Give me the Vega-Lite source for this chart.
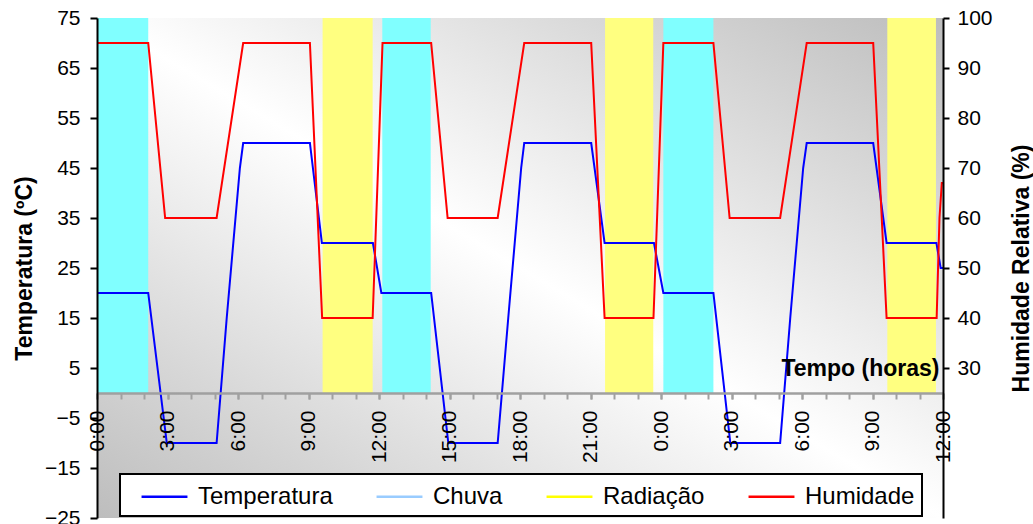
{
  "$schema": "https://vega.github.io/schema/vega-lite/v6.json",
  "width": 846,
  "height": 500,
  "autosize": {"type": "none"},
  "padding": {"left": 97, "top": 18, "right": 90, "bottom": 6},
  "background": "white",
  "view": {
    "stroke": null,
    "fill": {
      "gradient": "linear", "x1": 1, "y1": 0, "x2": 0, "y2": 1,
      "stops": [
        {"offset": 0, "color": "#bdbdbd"},
        {"offset": 0.5, "color": "#ffffff"},
        {"offset": 1, "color": "#bdbdbd"}
      ]
    }
  },
  "config": {
    "font": "Liberation Sans",
    "axis": {"labelColor": "black", "titleColor": "black", "grid": false},
    "axisX": {"labelOverlap": false, "labelFlush": false, "labelBound": false, "zindex": 1},
    "legend": {
      "orient": "none",
      "legendX": 23,
      "legendY": 456,
      "direction": "horizontal",
      "fillColor": "white",
      "strokeColor": "black",
      "strokeWidth": 2,
      "padding": 7,
      "symbolType": "M-1.64,0H1.64",
      "symbolSize": 784,
      "symbolOffset": 22,
      "symbolStrokeWidth": 2.5,
      "labelFontSize": 24,
      "labelOffset": 18,
      "columnPadding": 29,
      "labelColor": "black",
      "labelLimit": 300,
      "zindex": 5
    }
  },
  "datasets": {
    "bands": [
      {"start": 0, "end": 2.18, "tipo": "Chuva"},
      {"start": 9.6, "end": 11.73, "tipo": "Radiação"},
      {"start": 12.14, "end": 14.2, "tipo": "Chuva"},
      {"start": 21.62, "end": 23.67, "tipo": "Radiação"},
      {"start": 24.1, "end": 26.23, "tipo": "Chuva"},
      {"start": 33.63, "end": 35.7, "tipo": "Radiação"}
    ],
    "temp": [
      {"h": 0, "v": 20}, {"h": 2.18, "v": 20}, {"h": 2.97, "v": -10}, {"h": 5.09, "v": -10},
      {"h": 5.52, "v": 15}, {"h": 6.08, "v": 45}, {"h": 6.22, "v": 50}, {"h": 9.06, "v": 50},
      {"h": 9.57, "v": 30}, {"h": 11.74, "v": 30}, {"h": 12.1, "v": 20},
      {"h": 14.22, "v": 20}, {"h": 14.95, "v": -10}, {"h": 17.05, "v": -10},
      {"h": 17.5, "v": 15}, {"h": 18.05, "v": 45}, {"h": 18.18, "v": 50}, {"h": 21.03, "v": 50},
      {"h": 21.6, "v": 30}, {"h": 23.7, "v": 30}, {"h": 24.1, "v": 20},
      {"h": 26.23, "v": 20}, {"h": 26.95, "v": -10}, {"h": 29.07, "v": -10},
      {"h": 29.5, "v": 15}, {"h": 30.05, "v": 45}, {"h": 30.2, "v": 50}, {"h": 33.03, "v": 50},
      {"h": 33.6, "v": 30}, {"h": 35.72, "v": 30}, {"h": 35.9, "v": 25}, {"h": 36, "v": 25}
    ],
    "hum": [
      {"h": 0, "v": 95}, {"h": 2.18, "v": 95}, {"h": 2.9, "v": 60}, {"h": 5.09, "v": 60},
      {"h": 6.22, "v": 95}, {"h": 9.06, "v": 95}, {"h": 9.58, "v": 40}, {"h": 11.73, "v": 40},
      {"h": 12.15, "v": 95},
      {"h": 14.22, "v": 95}, {"h": 14.92, "v": 60}, {"h": 17.05, "v": 60},
      {"h": 18.18, "v": 95}, {"h": 21.03, "v": 95}, {"h": 21.6, "v": 40}, {"h": 23.68, "v": 40},
      {"h": 24.1, "v": 95},
      {"h": 26.23, "v": 95}, {"h": 26.92, "v": 60}, {"h": 29.07, "v": 60},
      {"h": 30.2, "v": 95}, {"h": 33.03, "v": 95}, {"h": 33.6, "v": 40}, {"h": 35.73, "v": 40},
      {"h": 35.85, "v": 60}, {"h": 35.95, "v": 67}, {"h": 36, "v": 67}
    ]
  },
  "layer": [
    {
      "layer": [
        {
          "data": {"name": "bands"},
          "mark": {"type": "rect"},
          "encoding": {
            "x": {"field": "start", "type": "quantitative", "scale": {"domain": [0, 36], "nice": false, "zero": false},
              "axis": {
                "orient": "bottom",
                "offset": -125,
                "zindex": 1,
                "values": [0, 3, 6, 9, 12, 15, 18, 21, 24, 27, 30, 33, 36],
                "labelExpr": "(datum.value % 24) + ':00'",
                "labelAngle": 270,
                "labelFontSize": 21,
                "labelPadding": 11,
                "labelOverlap": false,
                "labelFlush": false,
                "labelBound": false,
                "tickSize": 6,
                "tickWidth": 2,
                "tickColor": "#a0a0a0",
                "domainColor": "#a0a0a0",
                "domainWidth": 2,
                "title": "Tempo (horas)",
                "titleFontSize": 23,
                "titleFontWeight": "bold",
                "titleX": 842,
                "titleY": -18,
                "titleAlign": "right",
                "titleBaseline": "alphabetic",
                "titleAngle": 0
              }
            },
            "x2": {"field": "end"},
            "y": {"datum": 0, "type": "quantitative"},
            "y2": {"datum": 75},
            "fill": {"condition": {"test": "datum.tipo === 'Chuva'", "value": "#80FFFF"}, "value": "#FFFF80"}
          }
        },
        {
          "data": {"name": "temp"},
          "mark": {"type": "line", "strokeWidth": 2},
          "encoding": {
            "x": {"field": "h", "type": "quantitative",
              "axis": {
                "orient": "bottom",
                "offset": -125,
                "zindex": 1,
                "values": [0,1,2,3,4,5,6,7,8,9,10,11,12,13,14,15,16,17,18,19,20,21,22,23,24,25,26,27,28,29,30,31,32,33,34,35,36],
                "labels": false,
                "tickSize": 6,
                "tickWidth": 2,
                "tickColor": "#a0a0a0",
                "domainColor": "#a0a0a0",
                "domainWidth": 2,
                "title": null
              }
            },
            "y": {"field": "v", "type": "quantitative",
              "scale": {"domain": [-25, 75], "nice": false, "zero": false},
              "axis": {
                "orient": "left",
                "zindex": 1,
                "values": [-25, -15, -5, 5, 15, 25, 35, 45, 55, 65, 75],
                "labelFontSize": 21,
                "labelPadding": 10,
                "tickSize": 7,
                "tickWidth": 2,
                "tickColor": "black",
                "domainColor": "black",
                "domainWidth": 2,
                "title": "Temperatura (ºC)",
                "titleFontSize": 23,
                "titleFontWeight": "bold",
                "titleX": -66,
                "titleY": 250,
                "titleBaseline": "alphabetic"
              }
            },
            "color": {"datum": "Temperatura", "type": "nominal",
              "scale": {"domain": ["Temperatura", "Chuva", "Radiação", "Humidade"],
                        "range": ["#0000FF", "#99CCFF", "#FFFF00", "#FF0000"]},
              "legend": {"title": null}
            }
          }
        }
      ],
      "resolve": {"axis": {"x": "independent"}}
    },
    {
      "data": {"name": "hum"},
      "mark": {"type": "line", "strokeWidth": 2},
      "encoding": {
        "x": {"field": "h", "type": "quantitative", "axis": null},
        "y": {"field": "v", "type": "quantitative",
          "scale": {"domain": [0, 100], "nice": false},
          "axis": {
            "orient": "right",
            "zindex": 1,
            "values": [30, 40, 50, 60, 70, 80, 90, 100],
            "labelFontSize": 21,
            "labelPadding": 8,
            "tickSize": 6,
            "tickWidth": 2,
            "tickColor": "black",
            "domainColor": "black",
            "domainWidth": 2,
            "title": "Humidade Relativa (%)",
            "titleFontSize": 23,
            "titleFontWeight": "bold",
            "titleAngle": 270,
            "titleX": 85,
            "titleY": 250,
            "titleBaseline": "alphabetic"
          }
        },
        "color": {"datum": "Humidade", "type": "nominal"}
      }
    }
  ],
  "resolve": {"scale": {"y": "independent"}, "axis": {"x": "independent"}}
}
